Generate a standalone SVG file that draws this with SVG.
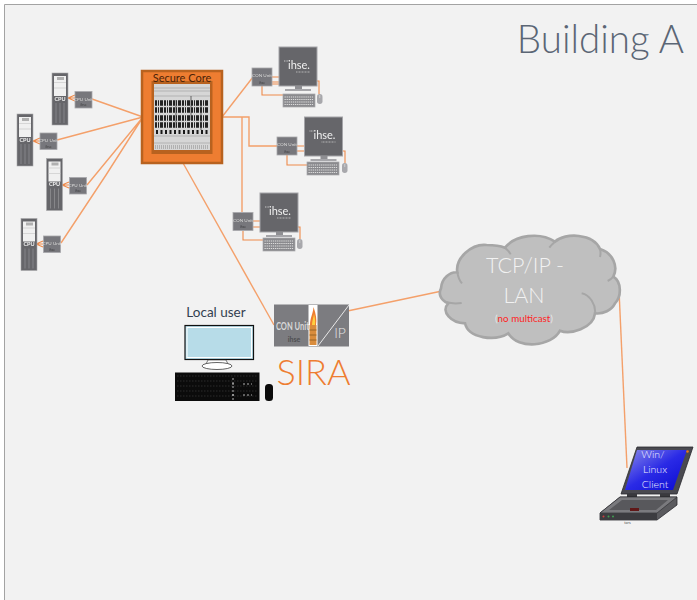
<svg xmlns="http://www.w3.org/2000/svg" width="697" height="600" viewBox="0 0 697 600">
<style>
text{font-family:"Lato","Open Sans","Liberation Sans",sans-serif}
.wire{fill:none;stroke:#f4a06a;stroke-width:1.400}
.wire2{fill:none;stroke:#ee8a4a;stroke-width:1.100}
.box{fill:#77777b;stroke:#a9a9ac;stroke-width:.8}
.tiny{fill:#d9d9d9;font-size:4.600px;text-anchor:middle}
.tiny2{fill:#3f3f42;font-size:3.400px;text-anchor:middle}
.dark{fill:#66666a;stroke:#a4a4a8;stroke-width:1}
.soft{filter:url(#soft)}
</style>
<defs>
<filter id="soft" x="-10%" y="-10%" width="120%" height="120%"><feGaussianBlur stdDeviation=".35"/></filter>
<g id="tower">
<rect x="0" y="0" width="16" height="52" fill="#66666a" stroke="#a8a8aa" stroke-width=".6"/>
<rect x="2" y="3" width="12" height="20" fill="#f0f0f0"/>
<path d="M2 9.500H14M2 15H14" stroke="#c4c4c4" stroke-width=".6"/>
<rect x="5" y="4" width="7" height="3" fill="#b0b0b0"/>
<text x="8" y="27.500" font-size="5.500" fill="#f2f2f2" text-anchor="middle" font-weight="700">CPU</text>
<path d="M4 30V50M8 30V50M12 30V50" stroke="#8e8e92" stroke-width=".8"/>
</g>
<g id="monitor">
<rect x="0" y="0" width="38" height="39" class="dark"/>
<text x="20" y="21.500" font-size="11" fill="#f0f0f0" text-anchor="middle">ihse.</text>
<path d="M5 14h4" stroke="#e0e0e0" stroke-width=".8" stroke-dasharray="1 .6"/>
<path d="M17 25h14" stroke="#c8c8c8" stroke-width=".8" stroke-dasharray="1 .5"/>
<rect x="16" y="39" width="7" height="3.500" fill="#8f8f93"/>
<rect x="6" y="42" width="26" height="2" fill="#a6a6aa"/>
</g>
<g id="keyboard">
<rect x="0" y="0" width="32" height="13" fill="#8a8a8e" stroke="#a8a8ac" stroke-width=".7"/>
<path d="M1.500 3H30.500M1.500 5.500H30.500M1.500 8H30.500M1.500 10.500H30.500" stroke="#dcdcdc" stroke-width="1.200" stroke-dasharray="1.300 .8"/>
</g>
<g id="mouse">
<rect x="0" y="0" width="5.500" height="10" rx="2.700" fill="#a8a8ac"/>
<path d="M2.750 1V4" stroke="#e4e4e4" stroke-width=".6"/>
</g>
<g id="conbox">
<rect x="0" y="0" width="20" height="18" class="box"/>
<text x="10" y="9" class="tiny">CON Unit</text>
<text x="10" y="15.500" class="tiny2">ihse</text>
</g>
<g id="cpubox">
<rect x="0" y="0" width="17" height="16.500" class="box"/>
<text x="8.500" y="9" class="tiny">CPU Unit</text>
<text x="8.500" y="14.500" class="tiny2">ihse</text>
</g>
<linearGradient id="scr" x1="0" y1="0" x2="1" y2="1">
<stop offset="0" stop-color="#8a8ae8"/>
<stop offset=".5" stop-color="#2a2ae6"/>
<stop offset="1" stop-color="#0a0ad0"/>
</linearGradient>
</defs>

<rect x="0" y="0" width="697" height="600" fill="#ffffff"/>
<rect x="4.500" y="4.500" width="693" height="596" fill="#f2f2f2"/>
<path d="M4.500 600V4.500H697" fill="none" stroke="#a3a3a3" stroke-width="1"/>
<text id="title" x="684" y="53" font-size="38.500" text-anchor="end" fill="#5b6675" font-weight="300">Building A</text>

<g id="connectors">
<path class="wire" d="M92 99L143 117M57 140L143 117M87 185L143 117M61 243L106 175L143 117"/>
<path class="wire2" d="M75 98L68 98L75 95M68 98L75 101"/>
<path class="wire2" d="M40 141L33 141L40 138M33 141L40 144"/>
<path class="wire2" d="M69 185L62 185L69 182M62 185L69 188"/>
<path class="wire2" d="M43 244L36 244L43 241M36 244L43 247"/>
<path class="wire" d="M222 117L253 77"/>
<path class="wire" d="M222 117H249V146H277"/>
<path class="wire" d="M242 117V212"/>
<path class="wire" d="M183 163L274 325"/>
<path class="wire" d="M338 313L442 291"/>
<path class="wire" d="M619 290L627 468"/>
<path class="wire2" d="M272 77H279M272 82H279M272 84H279M262 86V95H283M317 81H319V94"/>
<path class="wire2" d="M297 146H304M297 151H304M287 155V165H307M342 151H345V163"/>
<path class="wire2" d="M252 221H260M252 227H260M243 231V240H263M298 227H300V239"/>
</g>

<g id="cpu1" class="soft"><use href="#tower" x="52" y="73"/><use href="#cpubox" x="75" y="91.500"/></g>
<g id="cpu2" class="soft"><use href="#tower" x="17" y="114"/><use href="#cpubox" x="40" y="133"/></g>
<g id="cpu3" class="soft"><use href="#tower" x="46.500" y="158.500"/><use href="#cpubox" x="69.500" y="177.500"/></g>
<g id="cpu4" class="soft"><use href="#tower" x="21" y="218.500"/><use href="#cpubox" x="43.500" y="236"/></g>

<g id="secure-core">
<rect x="142" y="71" width="80" height="92" fill="#ee7d31" stroke="#b8621f" stroke-width="2.500"/>
<rect x="151.500" y="81" width="61" height="73" fill="#b8621f"/>
<rect x="154" y="84" width="56" height="66" fill="#d6d6d6"/>
<path d="M154 88H210M154 91H210M154 96H210M154 136H210M154 143H210" stroke="#aaaaaa" stroke-width=".8"/>
<path d="M155 103H208M155 110H208M155 118H208M155 125H208" stroke="#222222" stroke-width="5.500" stroke-dasharray="2 1 1 1 3 1"/>
<path d="M156 132H208" stroke="#1a1a1a" stroke-width="4" stroke-dasharray="2 2.500"/>
<path d="M155 147H209" stroke="#b0b0b0" stroke-width="4" stroke-dasharray="1 1"/>
<path d="M191 96V120M201 100V130M176 100V128" stroke="#333333" stroke-width=".7"/>
<text x="182" y="82" font-size="11" text-anchor="middle" fill="#4a2208">Secure Core</text>
</g>

<g id="workstation1" class="soft"><use href="#conbox" x="252" y="68"/><use href="#monitor" x="279" y="47"/><use href="#keyboard" x="283" y="94"/><use href="#mouse" x="317" y="94"/></g>
<g id="workstation2" class="soft"><use href="#conbox" x="277" y="137"/><use href="#monitor" x="304.500" y="117"/><use href="#keyboard" x="307" y="162"/><use href="#mouse" x="342" y="163"/></g>
<g id="workstation3" class="soft"><use href="#conbox" x="233" y="212.500"/><use href="#monitor" x="260" y="193"/><use href="#keyboard" x="263" y="238"/><use href="#mouse" x="297" y="239"/></g>

<g id="local-user">
<text x="216" y="317" font-size="13.500" text-anchor="middle" fill="#333f50">Local user</text>
<rect x="185" y="325.500" width="68.500" height="34" fill="#b7dce8" stroke="#111111" stroke-width="1.200" />
<rect x="187" y="327.500" width="64.500" height="30" fill="#b7dce8" stroke="#ffffff" stroke-width="1"/>
<path d="M208 360H226L228 364H206Z" fill="#ffffff" stroke="#222222" stroke-width=".6"/>
<ellipse cx="217" cy="366" rx="15" ry="3.500" fill="#ffffff" stroke="#222222" stroke-width=".7"/>
<rect x="175" y="372.500" width="84.500" height="28.500" fill="#0b0b0b"/>
<path d="M177 376H257M177 381H257M177 386H257M177 391H257M177 396H257" stroke="#2c2c2c" stroke-width="1" stroke-dasharray="1.500 1.500"/>
<path d="M232 384h3M243 384h9M232 395h3M243 395h9M233 378v22" stroke="#dddddd" stroke-width=".8" stroke-dasharray="2 2"/>
<rect x="265" y="384" width="8" height="17" rx="3.500" fill="#0b0b0b"/>
</g>

<g id="sira">
<rect x="274" y="304.500" width="75" height="42" fill="#7c7c80"/>
<text x="292.500" y="330" font-size="12" fill="#d8d8d8" text-anchor="middle" font-weight="700" textLength="33" lengthAdjust="spacingAndGlyphs">CON Unit</text>
<text x="294" y="342" font-size="7" fill="#4f4f52" text-anchor="middle" font-weight="700">ihse</text>
<rect x="308.500" y="305" width="9" height="41" fill="#ffffff"/>
<path d="M310 325C310 318 313 314 313.500 307C316 314 317 320 316 325Z" fill="#ee7d31"/>
<path d="M312 325C312 321 313.500 318 314 314C315 318 315.500 322 315 325Z" fill="#ffd040"/>
<rect x="309.500" y="325" width="7" height="20" fill="#d98c3c"/>
<path d="M309.500 330H316.500M309.500 335H316.500M309.500 340H316.500" stroke="#8a5a20" stroke-width=".8"/>
<path d="M318 346L349 305" stroke="#e8e8e8" stroke-width="1"/>
<text x="340" y="338" font-size="14" fill="#e4e4e4" text-anchor="middle" font-weight="300">IP</text>
<text x="313.500" y="385" font-size="36" fill="#ee7d31" text-anchor="middle" font-weight="300">SIRA</text>
</g>

<g id="cloud">
<path transform="translate(430 225) scale(.33333)" fill="#bfbfbf" stroke="#a6a6a6" stroke-width="8" d="M33 190C35 160 60 140 82 142C75 100 125 55 170 60C190 60 210 62 225 68C255 30 330 20 375 50C405 22 490 25 510 72C550 85 565 125 550 155C575 170 575 215 555 235C545 255 520 268 495 265C490 310 420 330 390 317C365 365 265 375 235 325C195 350 115 340 105 295C65 295 30 260 55 235C30 225 25 205 33 190Z"/>
<path transform="translate(430 225) scale(.33333)" fill="none" stroke="#a6a6a6" stroke-width="6" d="M50 232C62 235 80 236 95 234M82 142C84 155 88 166 96 175M455 205C480 210 498 240 495 265M550 155C546 160 540 165 533 168M225 68C232 74 238 80 242 88M375 50C368 56 362 62 358 68M510 72C512 80 512 88 510 96"/>
<text x="525" y="273" font-size="21.500" fill="#f2f2f2" text-anchor="middle" font-weight="300">TCP/IP -</text>
<text x="524" y="303" font-size="21.500" fill="#f2f2f2" text-anchor="middle" font-weight="300">LAN</text>
<text x="524" y="322" font-size="9.800" fill="#ff1f1f" text-anchor="middle"><tspan fill="#e8e8e8">(</tspan>no multicast<tspan fill="#e8e8e8">)</tspan></text>
</g>

<g id="laptop">
<path d="M637 447H693L677 494H621Z" fill="#4a4a50" stroke="#2a2a2e" stroke-width=".8"/>
<path d="M637 450H687L673 490H625Z" fill="url(#scr)"/>
<circle cx="687.500" cy="451.500" r="1.300" fill="#e87820"/>
<text x="653" y="458" font-size="10.500" fill="#f0f0ff" text-anchor="middle" font-weight="300">Win/</text>
<text x="655" y="473" font-size="10.500" fill="#f0f0ff" text-anchor="middle" font-weight="300">Linux</text>
<text x="655" y="488" font-size="10.500" fill="#f0f0ff" text-anchor="middle" font-weight="300">Client</text>
<path d="M627 494H637V498H627ZM660 494H670V498H660Z" fill="#3a3a3e"/>
<path d="M620 497H677L677 505L657 520H600V513Z" fill="#5a5a5e" stroke="#2a2a2e" stroke-width=".8"/>
<path d="M620 497H677L657 513H600Z" fill="#7a7a7e" stroke="#2a2a2e" stroke-width=".6"/>
<path d="M622 500H668L656 510H609Z" fill="#58585c"/>
<rect x="630" y="508" width="9" height="3" fill="#601818"/>
<path d="M600 513H657V520H600Z" fill="#3c3c40"/>
<circle cx="603.500" cy="516.500" r="1" fill="#d04040"/>
<circle cx="608.500" cy="516.500" r="1" fill="#40a050"/>
<circle cx="613" cy="516.500" r="1" fill="#40a050"/>
<text x="627.500" y="524" font-size="4" fill="#555555" text-anchor="middle">tars</text>
</g>
</svg>
